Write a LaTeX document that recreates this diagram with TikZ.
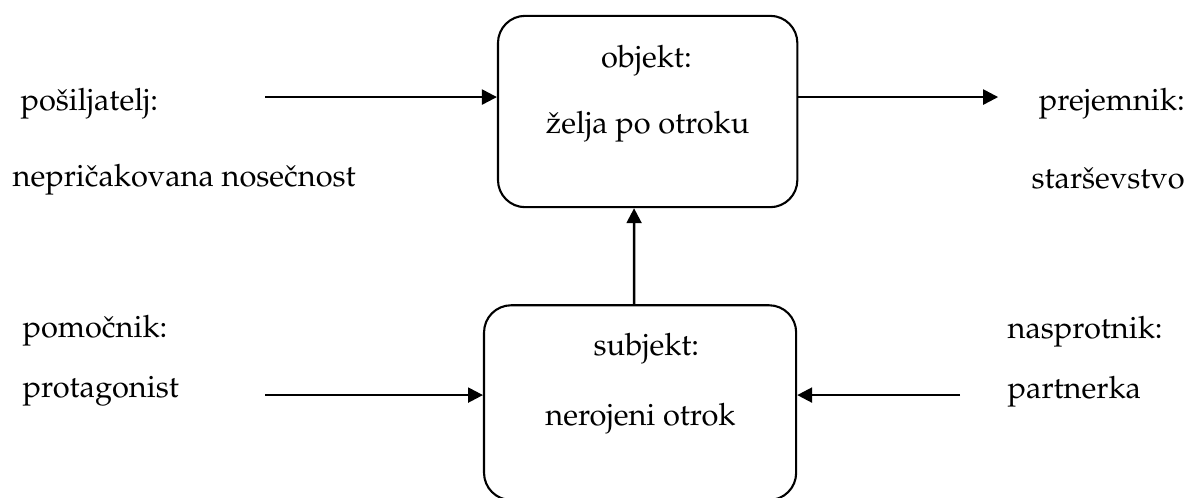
\documentclass[tikz,border=0pt]{standalone}
\usepackage[T1]{fontenc}
\usepackage{mathpazo}
\usetikzlibrary{arrows.meta,positioning,calc}
\tikzset{
  actbox/.style={draw,rounded corners=0.32cm,line width=0.7pt,minimum width=3.52cm,minimum height=2.25cm},
  flow/.style={line width=0.8pt,-{Triangle[length=5pt,width=5pt]}},
  role/.style={inner sep=0pt,anchor=base west},
  roler/.style={inner sep=0pt,anchor=base east},
  inbox/.style={inner sep=0pt,anchor=base}
}

\begin{document}
\begin{tikzpicture}[font=\fontsize{10.3}{12.4}\selectfont]
\useasboundingbox (0,0) rectangle (13.98,5.845);
% the two boxes
\node[actbox] (obj) at (7.615,4.534) {};
\node[actbox,minimum width=3.67cm,minimum height=2.29cm] (subj) at (7.526,1.111) {};
% texts inside the boxes
\node[inbox] (objt) at (7.6,5.057) {objekt:};
\node[inbox] (objw) at (7.615,4.281) {\v{z}elja po otroku};
\node[inbox] (subt) at (7.6,1.670) {subjekt:};
\node[inbox] (subw) at (7.53,0.847) {nerojeni otrok};
% the four roles
\node[role] (send) at (0.235,4.551) {po\v{s}iljatelj:};
\node[role] (sendw) at (0.141,3.657) {nepri\v{c}akovana nose\v{c}nost};
\node[roler] (recv) at (13.936,4.551) {prejemnik:};
\node[roler] (recvw) at (13.936,3.634) {star\v{s}evstvo};
\node[role] (help) at (0.259,1.882) {pomo\v{c}nik:};
\node[role] (helpw) at (0.259,1.176) {protagonist};
\node[role] (opp) at (11.84,1.870) {nasprotnik:};
\node[role] (oppw) at (11.84,1.164) {partnerka};
% free ends of the arrows
\coordinate (sendend) at (3.116,4.704);
\coordinate (recvend) at (11.736,4.704);
\coordinate (helpend) at (3.116,1.2);
\coordinate (oppend) at (11.29,1.2);
\draw[flow] (sendend) -- (sendend -| obj.west);
\draw[flow] (obj.east |- recvend) -- (recvend);
\draw[flow] (helpend) -- (helpend -| subj.west);
\draw[flow] (oppend) -- (oppend -| subj.east);
\draw[flow] ($(subj.north)+(-0.07,0)$) -- ($(obj.south)+(-0.16,0)$);
\end{tikzpicture}
\end{document}
